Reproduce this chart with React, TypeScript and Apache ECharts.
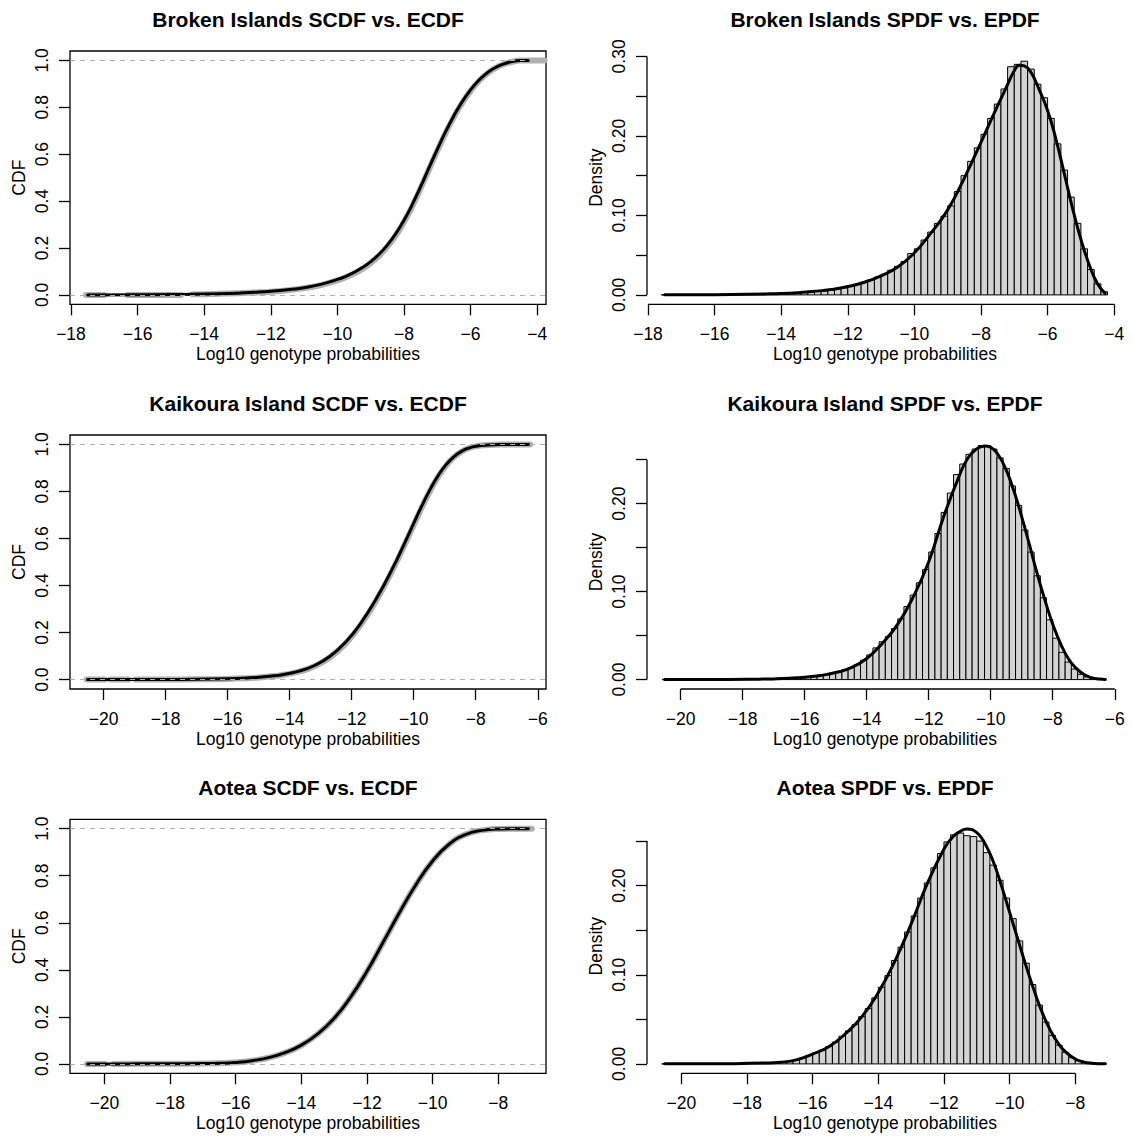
import React, { useEffect, useRef } from "react";
import * as echarts from "echarts";

// ---------------- data ----------------
const panelNames = ["Broken Islands", "Kaikoura Island", "Aotea"];

// x tick positions per row
const brokenTicksX = [-18, -16, -14, -12, -10, -8, -6, -4];
const kaikouraTicksX = [-20, -18, -16, -14, -12, -10, -8, -6];
const aoteaTicksX = [-20, -18, -16, -14, -12, -10, -8];

const cdfTicksY = [0, 0.2, 0.4, 0.6, 0.8, 1.0];
const densTicksY1 = [0, 0.05, 0.1, 0.15, 0.2, 0.25, 0.3];
const densLabelsY1 = [0, 0.1, 0.2, 0.3];
const densTicksY23 = [0, 0.05, 0.1, 0.15, 0.2, 0.25];
const densLabelsY23 = [0, 0.1, 0.2];

// axis ranges (x = R's 4% padded xlim)
const brokenXRange = [-18.03, -3.735];
const kaikouraXRange = [-21.087, -5.734];
const aoteaXRange = [-21.05, -6.545];
const cdfYRange = [-0.04, 1.04];
const brokenDensRange = [-0.0118, 0.3068];
const kaikouraDensRange = [-0.0107, 0.278];
const aoteaDensRange = [-0.01055, 0.2744];

// ---- Broken Islands ----
const brokenScdf = [
  [-17.5, 0], [-16, 0.0005], [-15, 0.0015], [-14, 0.0035], [-13, 0.0075], [-12.5, 0.011],
  [-12, 0.0155], [-11.5, 0.022], [-11, 0.031], [-10.5, 0.045], [-10, 0.066], [-9.75, 0.0794],
  [-9.5, 0.0959], [-9.25, 0.1165], [-9, 0.1419], [-8.75, 0.1735], [-8.5, 0.2125], [-8.25, 0.2601],
  [-8, 0.318], [-7.75, 0.3857], [-7.5, 0.4616], [-7.25, 0.5415], [-7, 0.6207], [-6.75, 0.6959],
  [-6.5, 0.7643], [-6.25, 0.8241], [-6, 0.8744], [-5.75, 0.9154], [-5.5, 0.9469], [-5.25, 0.9698],
  [-5, 0.9852], [-4.75, 0.9946], [-4.5, 0.9993], [-4.27, 1],
];
const brokenEcdf = [
  [-17.55, 0], [-17.0, 0], null, [-16.3, 0], [-14.7, 0], null,
  [-14.35, 0.0025], [-14, 0.0032], [-13, 0.0068], [-12.5, 0.01], [-12, 0.014], [-11.5, 0.02],
  [-11, 0.029], [-10.5, 0.042], [-10, 0.062], [-9.75, 0.075], [-9.5, 0.091], [-9.25, 0.111],
  [-9, 0.136], [-8.75, 0.167], [-8.5, 0.206], [-8.25, 0.253], [-8, 0.311], [-7.75, 0.378],
  [-7.5, 0.455], [-7.25, 0.535], [-7, 0.615], [-6.75, 0.69], [-6.5, 0.759], [-6.25, 0.819],
  [-6, 0.87], [-5.75, 0.912], [-5.5, 0.944], [-5.25, 0.968], [-5, 0.984], [-4.75, 0.994],
  [-4.5, 0.999], [-4.2, 1], [-3.78, 1],
];
const brokenBinStart = -17.6;
const brokenBins = [
  0.0001, 0.0001, 0.0001, 0.0001, 0.0002, 0.0002, 0.0002, 0.0003, 0.0003, 0.0004,
  0.0005, 0.0005, 0.0006, 0.0008, 0.0009, 0.0011, 0.0013, 0.0015, 0.0018, 0.0022,
  0.0026, 0.0031, 0.0037, 0.0044, 0.0052, 0.0062, 0.0074, 0.0088, 0.0115, 0.0135,
  0.016, 0.019, 0.0225, 0.026, 0.031, 0.036, 0.042, 0.052, 0.058, 0.069,
  0.079, 0.09, 0.099, 0.112, 0.13, 0.15, 0.168, 0.185, 0.202, 0.222,
  0.24, 0.259, 0.287, 0.29, 0.294, 0.284, 0.265, 0.248, 0.222, 0.19,
  0.157, 0.123, 0.09, 0.058, 0.032, 0.014, 0.004,
];
const brokenSpdf = [
  [-17.5, 0.0001], [-16.5, 0.0002], [-15.5, 0.0005], [-14.5, 0.0012], [-14, 0.0017], [-13.5, 0.0028],
  [-13, 0.0045], [-12.5, 0.0068], [-12, 0.0105], [-11.5, 0.016], [-11, 0.024], [-10.5, 0.035],
  [-10, 0.053], [-9.5, 0.078], [-9, 0.107], [-8.5, 0.147], [-8, 0.192], [-7.5, 0.238], [-7.25, 0.26],
  [-7, 0.282], [-6.85, 0.289], [-6.7, 0.288], [-6.5, 0.28], [-6.25, 0.258], [-6, 0.232],
  [-5.75, 0.196], [-5.5, 0.153], [-5.25, 0.109], [-5, 0.07], [-4.75, 0.038], [-4.5, 0.014], [-4.27, 0.002],
];

// ---- Kaikoura Island ----
const kaikouraScdf = [
  [-20.52, 0], [-19, 0.0001], [-18, 0.0004], [-17, 0.0012], [-16, 0.0035], [-15.5, 0.0058],
  [-15, 0.0098], [-14.5, 0.0162], [-14.2, 0.022], [-13.7, 0.036], [-13.2, 0.06], [-12.7, 0.0995],
  [-12.2, 0.159], [-11.7, 0.2415], [-11.2, 0.3455], [-10.7, 0.4685], [-10.2, 0.607], [-9.95, 0.679],
  [-9.7, 0.7495], [-9.45, 0.8142], [-9.2, 0.87], [-8.95, 0.915], [-8.7, 0.9485], [-8.45, 0.9715],
  [-8.2, 0.9855], [-7.95, 0.9931], [-7.7, 0.9968], [-7.2, 0.9996], [-6.3, 1],
];
const kaikouraEcdf = [
  [-20.55, 0], [-19.97, 0], null, [-19.79, 0], [-19.2, 0], null,
  [-18.98, 0.0002], [-18, 0.0003], [-17, 0.001], [-16, 0.003], [-15.5, 0.0052], [-15, 0.009],
  [-14.5, 0.015], [-14.2, 0.0205], [-13.7, 0.034], [-13.2, 0.057], [-12.7, 0.095], [-12.2, 0.153],
  [-11.7, 0.235], [-11.2, 0.338], [-10.7, 0.461], [-10.2, 0.6], [-9.95, 0.672], [-9.7, 0.743],
  [-9.45, 0.808], [-9.2, 0.865], [-8.95, 0.911], [-8.7, 0.946], [-8.45, 0.97], [-8.2, 0.985],
  [-7.95, 0.993], [-7.7, 0.9966], [-7.2, 0.9995], [-6.25, 1],
];
const kaikouraBinStart = -20.6;
const kaikouraBins = [
  0.00005, 0.00005, 0.00005, 0.00006, 0.00007, 0.00008, 0.0001, 0.0001, 0.0001, 0.00012,
  0.00015, 0.0002, 0.00025, 0.0003, 0.0004, 0.0005, 0.0006, 0.0007, 0.0009, 0.0012,
  0.0015, 0.0019, 0.0024, 0.003, 0.0037, 0.0046, 0.0058, 0.0072, 0.009, 0.011,
  0.0135, 0.017, 0.022, 0.028, 0.036, 0.043, 0.049, 0.058, 0.069, 0.083,
  0.096, 0.11, 0.125, 0.145, 0.166, 0.19, 0.212, 0.233, 0.245, 0.256,
  0.262, 0.266, 0.266, 0.262, 0.252, 0.24, 0.22, 0.198, 0.17, 0.145,
  0.118, 0.093, 0.068, 0.047, 0.031, 0.02, 0.012, 0.006, 0.003, 0.0012,
  0.0004,
];
const kaikouraSpdf = [
  [-20.52, 0.00005], [-19.5, 0.0001], [-18.5, 0.00015], [-17.5, 0.0005], [-17, 0.0008], [-16.5, 0.0015],
  [-16, 0.0027], [-15.5, 0.0046], [-15, 0.008], [-14.5, 0.0135], [-14, 0.024], [-13.5, 0.041],
  [-13, 0.063], [-12.5, 0.094], [-12, 0.134], [-11.5, 0.187], [-11, 0.233], [-10.75, 0.251],
  [-10.5, 0.261], [-10.2, 0.2655], [-10, 0.264], [-9.75, 0.255], [-9.5, 0.238], [-9.25, 0.214],
  [-9, 0.185], [-8.75, 0.153], [-8.5, 0.12], [-8.25, 0.09], [-8, 0.063], [-7.75, 0.041],
  [-7.5, 0.024], [-7.25, 0.013], [-7, 0.006], [-6.75, 0.0022], [-6.5, 0.0006], [-6.3, 0.0001],
];

// ---- Aotea ----
const aoteaScdf = [
  [-20.51, 0], [-19.5, 0.00005], [-19, 0.00008], [-18, 0.0005], [-17, 0.0013], [-16.5, 0.0026],
  [-16, 0.0063], [-15.5, 0.0138], [-15, 0.0266], [-14.5, 0.0478], [-14, 0.0799], [-13.5, 0.128],
  [-13, 0.194], [-12.5, 0.284], [-12, 0.394], [-11.5, 0.519], [-11, 0.646], [-10.5, 0.764],
  [-10, 0.863], [-9.5, 0.934], [-9, 0.975], [-8.5, 0.993], [-8, 0.999], [-7.5, 0.9998], [-7.08, 1],
];
const aoteaEcdf = [
  [-20.53, 0], [-19.98, 0], null,
  [-19.73, 0.00006], [-19, 0.0001], [-18, 0.0005], [-17, 0.0012], [-16, 0.006], [-15.5, 0.0132],
  [-15, 0.026], [-14.5, 0.047], [-14, 0.079], [-13.5, 0.127], [-13, 0.193], [-12.5, 0.283],
  [-12, 0.393], [-11.5, 0.518], [-11, 0.645], [-10.5, 0.763], [-10, 0.862], [-9.5, 0.933],
  [-9, 0.975], [-8.5, 0.993], [-8, 0.999], [-7.5, 0.9998], [-6.98, 1],
];
const aoteaBinStart = -20.6;
const aoteaBins = [
  0.00003, 0.00003, 0.00004, 0.00005, 0.00006, 0.00008, 0.0001, 0.00012, 0.00015, 0.0002,
  0.00025, 0.0003, 0.0004, 0.0005, 0.0007, 0.0009, 0.0012, 0.0016, 0.0021, 0.0028,
  0.0045, 0.0068, 0.0095, 0.0125, 0.0155, 0.0195, 0.0245, 0.031, 0.037, 0.044,
  0.053, 0.062, 0.074, 0.086, 0.099, 0.116, 0.131, 0.148, 0.166, 0.186,
  0.203, 0.22, 0.236, 0.249, 0.257, 0.259, 0.256, 0.255, 0.25, 0.237,
  0.223, 0.206, 0.186, 0.163, 0.138, 0.113, 0.089, 0.066, 0.047, 0.032,
  0.021, 0.013, 0.007, 0.0035, 0.0015, 0.0006, 0.0002,
];
const aoteaSpdf = [
  [-20.51, 0.00003], [-19.5, 0.00008], [-18.5, 0.00025], [-17.5, 0.0009], [-17, 0.0018], [-16.5, 0.0045],
  [-16, 0.011], [-15.5, 0.0195], [-15, 0.034], [-14.5, 0.053], [-14, 0.08], [-13.5, 0.115],
  [-13, 0.157], [-12.5, 0.203], [-12, 0.241], [-11.75, 0.254], [-11.5, 0.261], [-11.3, 0.2636],
  [-11, 0.2595], [-10.75, 0.247], [-10.5, 0.227], [-10.25, 0.2], [-10, 0.17], [-9.75, 0.14],
  [-9.5, 0.11], [-9.25, 0.082], [-9, 0.057], [-8.75, 0.037], [-8.5, 0.022], [-8.25, 0.012],
  [-8, 0.0055], [-7.75, 0.0022], [-7.5, 0.0008], [-7.08, 0.0001],
];

const binWidth = 0.2;

// ---------------- layout / style ----------------
const FONT = '"Liberation Sans", Arial, Helvetica, sans-serif';
const LABEL_SIZE = 17.5;
const TITLE_SIZE = 21;
const LEFT_X = 70;
const RIGHT_X = 647;
const PANEL_W = 476;
const ROW_TOPS = [51, 435, 819.3];
const ROW_H = [253.3, 254, 254];
const GRAY = "#b0b0b0";
const BAR_FILL = "#d3d3d3";
const SMOOTH = 0.5;

const rows = [
  {
    name: panelNames[0], ticks: brokenTicksX, xr: brokenXRange, scdf: brokenScdf, ecdf: brokenEcdf,
    binStart: brokenBinStart, bins: brokenBins, spdf: brokenSpdf, dr: brokenDensRange,
    dTicks: densTicksY1, dLabels: densLabelsY1,
  },
  {
    name: panelNames[1], ticks: kaikouraTicksX, xr: kaikouraXRange, scdf: kaikouraScdf, ecdf: kaikouraEcdf,
    binStart: kaikouraBinStart, bins: kaikouraBins, spdf: kaikouraSpdf, dr: kaikouraDensRange,
    dTicks: densTicksY23, dLabels: densLabelsY23,
  },
  {
    name: panelNames[2], ticks: aoteaTicksX, xr: aoteaXRange, scdf: aoteaScdf, ecdf: aoteaEcdf,
    binStart: aoteaBinStart, bins: aoteaBins, spdf: aoteaSpdf, dr: aoteaDensRange,
    dTicks: densTicksY23, dLabels: densLabelsY23,
  },
];

const fmtX = (v: number) => (v < 0 ? "\u2212" + Math.abs(v) : String(v));

function buildOption() {
  const grid: any[] = [];
  const xAxis: any[] = [];
  const yAxis: any[] = [];
  const series: any[] = [];
  const title: any[] = [];

  const textBase = { color: "#000", fontFamily: FONT, fontSize: LABEL_SIZE };

  rows.forEach((row, r) => {
    const top = ROW_TOPS[r];
    const h = ROW_H[r];
    const gL = 2 * r;
    const gR = 2 * r + 1;

    grid.push({ left: LEFT_X, top, width: PANEL_W, height: h, show: true, borderColor: "#000", borderWidth: 1.3, backgroundColor: "transparent" });
    grid.push({ left: RIGHT_X, top, width: PANEL_W, height: h, show: false });

    title.push({
      text: row.name + " SCDF vs. ECDF", left: LEFT_X + PANEL_W / 2, top: top - 42.5, textAlign: "center", padding: 0,
      textStyle: { fontSize: TITLE_SIZE, fontWeight: "bold", fontFamily: FONT, color: "#000" },
    });
    title.push({
      text: row.name + " SPDF vs. EPDF", left: RIGHT_X + PANEL_W / 2, top: top - 42.5, textAlign: "center", padding: 0,
      textStyle: { fontSize: TITLE_SIZE, fontWeight: "bold", fontFamily: FONT, color: "#000" },
    });

    const mkX = (gi: number) => ({
      gridIndex: gi, type: "value", min: row.xr[0], max: row.xr[1],
      axisLine: { show: false, onZero: false },
      axisTick: { show: true, customValues: row.ticks, length: 11, lineStyle: { color: "#000", width: 1.3 } },
      axisLabel: { customValues: row.ticks, formatter: fmtX, margin: 20.5, ...textBase },
      splitLine: { show: false },
      name: "Log10 genotype probabilities", nameLocation: "middle", nameGap: 40.5,
      nameTextStyle: { ...textBase },
    });
    xAxis.push(mkX(gL));
    xAxis.push(mkX(gR));

    yAxis.push({
      gridIndex: gL, type: "value", min: cdfYRange[0], max: cdfYRange[1],
      axisLine: { show: false, onZero: false },
      axisTick: { show: true, customValues: cdfTicksY, length: 11, lineStyle: { color: "#000", width: 1.3 } },
      axisLabel: { customValues: cdfTicksY, formatter: (v: number) => v.toFixed(1), rotate: 90, margin: 19.5, ...textBase },
      splitLine: { show: false },
      name: "CDF", nameLocation: "middle", nameGap: 42, nameRotate: 90, nameTextStyle: { ...textBase },
    });
    yAxis.push({
      gridIndex: gR, type: "value", min: row.dr[0], max: row.dr[1],
      axisLine: { show: false, onZero: false },
      axisTick: { show: true, customValues: row.dTicks, length: 11, lineStyle: { color: "#000", width: 1.3 } },
      axisLabel: { customValues: row.dLabels, formatter: (v: number) => v.toFixed(2), rotate: 90, margin: 19.5, ...textBase },
      splitLine: { show: false },
      name: "Density", nameLocation: "middle", nameGap: 42, nameRotate: 90, nameTextStyle: { ...textBase },
    });

    // ---- CDF panel ----
    series.push({
      type: "line", xAxisIndex: gL, yAxisIndex: gL, data: [], silent: true,
      markLine: {
        silent: true, symbol: ["none", "none"], label: { show: false },
        lineStyle: { color: GRAY, width: 1.2, type: [5, 5] },
        data: [{ yAxis: 0 }, { yAxis: 1 }],
      },
      z: 1,
    });
    series.push({
      type: "line", xAxisIndex: gL, yAxisIndex: gL, data: row.ecdf, showSymbol: false, symbol: "none",
      smooth: SMOOTH, connectNulls: false, silent: true,
      lineStyle: { color: GRAY, width: 6, cap: "round", join: "round" }, z: 2,
    });
    series.push({
      type: "line", xAxisIndex: gL, yAxisIndex: gL, data: row.scdf, showSymbol: false, symbol: "none",
      smooth: SMOOTH, silent: true,
      lineStyle: { color: "#000", width: 3, cap: "round", join: "round" }, z: 3,
    });

    // ---- density panel ----
    const barData = row.bins.map((v, i) => [row.binStart + i * binWidth, row.binStart + (i + 1) * binWidth, v]);
    series.push({
      type: "custom", xAxisIndex: gR, yAxisIndex: gR, data: barData, silent: true,
      encode: { x: [0, 1], y: 2 },
      renderItem: (_p: any, api: any) => {
        const a = api.coord([api.value(0), api.value(2)]);
        const b = api.coord([api.value(1), 0]);
        return {
          type: "rect",
          shape: { x: a[0], y: a[1], width: b[0] - a[0], height: b[1] - a[1] },
          style: { fill: BAR_FILL, stroke: "#000", lineWidth: 1 },
        };
      },
      z: 1,
    });
    series.push({
      type: "line", xAxisIndex: gR, yAxisIndex: gR, data: row.spdf, showSymbol: false, symbol: "none",
      smooth: SMOOTH, silent: true,
      lineStyle: { color: "#000", width: 3, cap: "round", join: "round" }, z: 3,
    });
    // R-style axis lines spanning first..last tick
    const t0 = row.ticks[0];
    const t1 = row.ticks[row.ticks.length - 1];
    series.push({
      type: "line", xAxisIndex: gR, yAxisIndex: gR, clip: false, silent: true, showSymbol: false, symbol: "none",
      data: [[t0, row.dr[0]], [t1, row.dr[0]]],
      lineStyle: { color: "#000", width: 1.3 }, z: 4,
    });
    series.push({
      type: "line", xAxisIndex: gR, yAxisIndex: gR, clip: false, silent: true, showSymbol: false, symbol: "none",
      data: [[row.xr[0], row.dTicks[0]], [row.xr[0], row.dTicks[row.dTicks.length - 1]]],
      lineStyle: { color: "#000", width: 1.3 }, z: 4,
    });
  });

  return { animation: false, backgroundColor: "#fff", title, grid, xAxis, yAxis, series };
}

export default function App() {
  const ref = useRef<HTMLDivElement>(null);
  useEffect(() => {
    const chart = echarts.init(ref.current as HTMLDivElement, null, { renderer: "svg", width: 1133, height: 1137 });
    chart.setOption(buildOption() as any);
    return () => chart.dispose();
  }, []);
  return (
    <div
      ref={ref}
      style={{ position: "absolute", left: 0, top: 0, width: 1133, height: 1137, background: "#fff" }}
    />
  );
}
